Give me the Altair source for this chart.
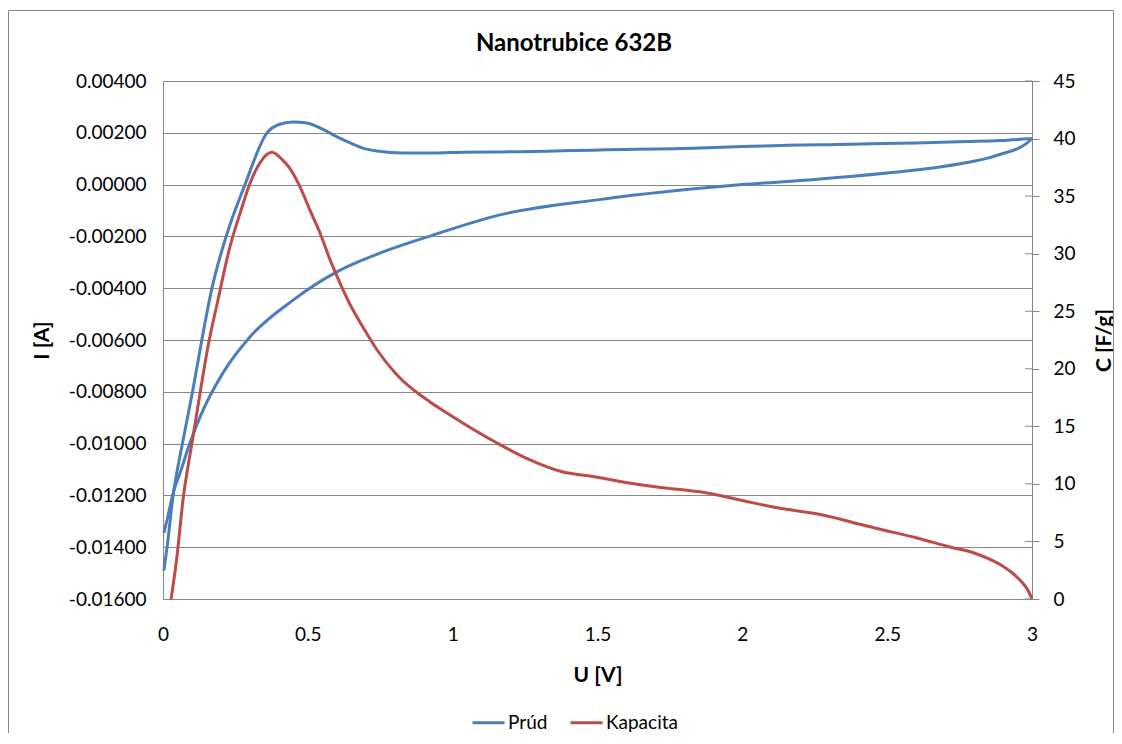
import altair as alt
import pandas as pd

BLUE = "#4A7EBB"
RED = "#BE4B48"
GRAY = "#868686"

TITLE = "Nanotrubice 632B"

# Prúd – forward scan (0 V -> 3 V)
U_prud_fwd = [0.003, 0.014, 0.035, 0.067, 0.102, 0.134, 0.169, 0.218, 0.283, 0.359,
              0.400, 0.449, 0.497, 0.552, 0.601, 0.646, 0.690, 0.739, 0.829, 0.932,
              1.036, 1.163, 1.509, 1.854, 2.000, 2.372, 2.600, 2.776, 2.890, 3.000]
I_prud_fwd = [-0.01490, -0.01400, -0.01200, -0.01000, -0.00800, -0.00600, -0.00400,
              -0.00200, 0.00000, 0.00200, 0.00232, 0.00242, 0.00238, 0.00213,
              0.00184, 0.00161, 0.00141, 0.00130, 0.00122, 0.00122, 0.00125,
              0.00126, 0.00134, 0.00141, 0.00147, 0.00156, 0.00161, 0.00166,
              0.00170, 0.00178]

# Prúd – reverse scan (3 V -> 0 V)
U_prud_rev = [3.000, 2.980, 2.948, 2.900, 2.850, 2.776, 2.658, 2.500, 2.250, 2.000,
              1.500, 1.163, 0.932, 0.760, 0.600, 0.449, 0.300, 0.207, 0.128, 0.093,
              0.059, 0.035, 0.014, 0.003]
I_prud_rev = [0.00178, 0.00158, 0.00138, 0.00120, 0.00103, 0.00085, 0.00064, 0.00045,
              0.00020, 0.00000, -0.00059, -0.00117, -0.00195, -0.00260, -0.00337,
              -0.00446, -0.00588, -0.00727, -0.00897, -0.00998, -0.01113, -0.01191,
              -0.01295, -0.01345]

# Kapacita
U_kap = [0.028, 0.048, 0.069, 0.100, 0.128, 0.155, 0.190, 0.231, 0.266, 0.300, 0.335,
         0.376, 0.414, 0.438, 0.473, 0.507, 0.542, 0.577, 0.611, 0.656, 0.690, 0.739,
         0.808, 0.922, 0.980, 1.153, 1.267, 1.381, 1.474, 1.588, 1.705, 1.878, 1.992,
         2.106, 2.278, 2.430, 2.486, 2.603, 2.717, 2.800, 2.850, 2.890, 2.930, 2.960,
         2.985, 3.000]
C_kap = [0.0, 3.65, 8.6, 13.55, 17.9, 21.9, 26.0, 30.6, 33.5, 36.1, 37.9, 38.8, 38.1,
         37.4, 35.8, 33.8, 31.8, 29.45, 27.45, 25.1, 23.63, 21.63, 19.46, 17.11, 16.16,
         13.55, 12.08, 11.03, 10.69, 10.17, 9.73, 9.21, 8.60, 7.99, 7.30, 6.34, 6.0,
         5.30, 4.52, 4.0, 3.5, 3.0, 2.3, 1.6, 0.8, 0.0]

U_ticks = [0, 0.5, 1, 1.5, 2, 2.5, 3]
I_ticks = [-0.016, -0.014, -0.012, -0.010, -0.008, -0.006, -0.004, -0.002, 0.0, 0.002, 0.004]
C_ticks = [0, 5, 10, 15, 20, 25, 30, 35, 40, 45]

prud = pd.concat([
    pd.DataFrame({"U": U_prud_fwd, "I": I_prud_fwd, "branch": "fwd"}),
    pd.DataFrame({"U": U_prud_rev, "I": I_prud_rev, "branch": "rev"}),
])
prud["series"] = "Prúd"
kap = pd.DataFrame({"U": U_kap, "C": C_kap, "series": "Kapacita"})
ticks_df = pd.DataFrame({"C": C_ticks})

W, H = 869, 518

color = alt.Color(
    "series:N",
    scale=alt.Scale(domain=["Prúd", "Kapacita"], range=[BLUE, RED]),
    legend=alt.Legend(
        title=None, orient="none", legendX=308, legendY=624, direction="horizontal",
        symbolType="stroke", symbolSize=1024, symbolStrokeWidth=3,
        labelFont="Lato", labelFontSize=19, labelColor="black", labelOffset=2,
        columnPadding=16, padding=0,
    ),
)

x_enc = alt.X(
    "U:Q",
    scale=alt.Scale(domain=[0, 3], nice=False, zero=False),
    axis=alt.Axis(values=U_ticks, format="~g", title="U [V]", ticks=False, tickSize=0,
                  labelPadding=26, grid=False, labelFlush=False, titleY=76, titleX=W / 2,
                  titleBaseline="middle"),
)

blue = alt.Chart(prud).mark_line(strokeWidth=3, interpolate="monotone").encode(
    x=x_enc,
    y=alt.Y(
        "I:Q",
        scale=alt.Scale(domain=[-0.016, 0.004], nice=False, zero=False),
        axis=alt.Axis(orient="left", values=I_ticks,
                      labelExpr="replace(format(datum.value, '.5f'), '\u2212', '-')",
                      title="I [A]", ticks=False, tickSize=0, labelPadding=17, grid=True,
                      labelFlush=False,
                      titleX=-121, titleY=H / 2, titleAngle=270, titleBaseline="middle"),
    ),
    color=color,
    detail="branch:N",
)

red = alt.Chart(kap).mark_line(strokeWidth=3, interpolate="monotone").encode(
    x=alt.X("U:Q"),
    y=alt.Y(
        "C:Q",
        scale=alt.Scale(domain=[0, 45], nice=False, zero=False),
        axis=alt.Axis(orient="right", values=C_ticks, format="d", title="C [F/g]",
                      ticks=True, tickSize=7, labelPadding=14, grid=False,
                      labelFlush=False,
                      titleX=72, titleY=H / 2, titleAngle=270, titleBaseline="middle"),
    ),
    color=color,
)

inner_ticks = alt.Chart(ticks_df).mark_rule(color=GRAY, strokeWidth=1).encode(
    y=alt.Y("C:Q", scale=alt.Scale(domain=[0, 45], nice=False, zero=False), axis=None),
    x=alt.value(W - 7),
    x2=alt.value(W),
)

border = alt.Chart(pd.DataFrame({"k": [0]})).mark_rect(
    fillOpacity=0, stroke=GRAY, strokeWidth=1
).encode(
    x=alt.value(-154.5), x2=alt.value(950.5), y=alt.value(-70.5), y2=alt.value(720)
)

title = alt.Chart(pd.DataFrame({"t": [TITLE]})).mark_text(
    font="Lato", fontSize=24, fontWeight="bold", color="black",
    align="center", baseline="alphabetic",
).encode(text="t:N", x=alt.value(411), y=alt.value(-30))

chart = alt.layer(border, blue, red, inner_ticks, title).resolve_scale(
    y="independent"
).properties(
    width=W,
    height=H,
    padding={"left": 155, "top": 73, "right": 82, "bottom": 134},
    autosize=alt.AutoSizeParams(type="none"),
).configure_axis(
    labelFont="Lato", labelFontSize=19, labelColor="black",
    titleFont="Lato", titleFontSize=21, titleFontWeight="bold", titleColor="black",
    domainColor=GRAY, gridColor=GRAY, tickColor=GRAY, domainWidth=1, gridWidth=1,
).configure_view(stroke=None)

chart.save("out.html", embed_options={"renderer": "svg", "actions": False})
